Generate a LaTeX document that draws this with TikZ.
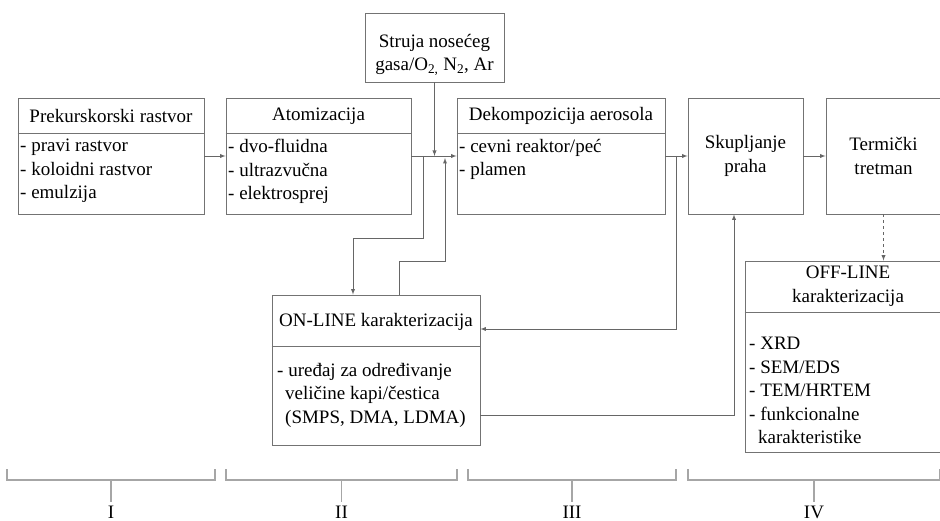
\documentclass[tikz,border=0pt]{standalone}
\usepackage{fontspec}
\setmainfont{LiberationSerif}[Extension=.ttf,UprightFont=*-Regular,BoldFont=*-Bold]
\usetikzlibrary{arrows}

\begin{document}
\begin{tikzpicture}[x=1pt,y=-1pt,>=latex,
    font=\fontsize{19}{23.5}\selectfont,
    box/.style={draw=black!55,line width=0.9pt,inner sep=0pt},
    conn/.style={draw=black!60,line width=0.9pt},
    items/.style={anchor=north west,align=left,inner sep=0pt},
    brace/.style={draw=black!35,line width=1.6pt}]

  \useasboundingbox (0,0) rectangle (940,521);

  % boxes of the process line
  \node[box,minimum width=186pt,minimum height=116pt] (prek) at (111,156) {};
  \node (prekt) at (111,116) {Prekurskorski rastvor};
  \draw[box] (prek.west |- 0,133) -- (prek.east |- 0,133);
  \node[items] (preki) at (20,139) {- pravi rastvor\\- koloidni rastvor\\- emulzija};

  \node[box,minimum width=185pt,minimum height=116pt] (atom) at (318.5,156) {};
  \node (atomt) at (318.5,116) {Atomizacija};
  \draw[box] (atom.west |- 0,133) -- (atom.east |- 0,133);
  \node[items] (atomi) at (228,139) {- dvo-fluidna\\- ultrazvučna\\- elektrosprej};

  \node[box,minimum width=139pt,minimum height=69pt] (struja) at (434.5,47.5) {};
  \node[align=center] (strujat) at (434.5,55) {Struja nosećeg\\gasa/O\textsubscript{2,} N\textsubscript{2}, Ar};

  \node[box,minimum width=208pt,minimum height=116pt] (dek) at (561,156) {};
  \node (dekt) at (561,116) {Dekompozicija aerosola};
  \draw[box] (dek.west |- 0,133) -- (dek.east |- 0,133);
  \node[items] (deki) at (459,139) {- cevni reaktor/peć\\- plamen};

  \node[box,minimum width=115pt,minimum height=116pt,align=center] (skup) at (745.5,156) {Skupljanje\\praha};
  \node[box,minimum width=115pt,minimum height=116pt,align=center] (term) at (883.5,156) {Termički\\tretman};

  % characterisation boxes
  \node[box,minimum width=208pt,minimum height=150pt] (online) at (376,370) {};
  \node (onlinet) at (376,322) {ON-LINE karakterizacija};
  \draw[box] (online.west |- 0,346) -- (online.east |- 0,346);
  \node[items] (onlinei) at (277,363) {- uređaj za određivanje\\\hspace*{8pt}veličine kapi/čestica\\\hspace*{8pt}(SMPS, DMA, LDMA)};

  \node[box,minimum width=206pt,minimum height=191pt] (off) at (848,356.5) {};
  \node[align=center] (offt) at (848,286) {OFF-LINE\\karakterizacija};
  \draw[box] (off.west |- 0,312) -- (off.east |- 0,312);
  \node[items] (offi) at (749,337) {- XRD\\- SEM/EDS\\- TEM/HRTEM\\- funkcionalne\\\hspace*{9pt}karakteristike};

  % connectors
  \coordinate (j1) at (423,156);
  \coordinate (j2) at (676,156);
  \draw[conn,->] (prek.east) -- (atom.west);
  \draw[conn,->] (atom.east) -- (dek.west);
  \draw[conn,->] (struja.south) -- (struja.south |- dek.west);
  \draw[conn,->] (j1) |- (353,238) -- (353,0 |- online.north);
  \draw[conn,->] (399,0 |- online.north) |- (445,261) -- (445,158);
  \draw[conn,->] (dek.east) -- (skup.west);
  \draw[conn,->] (j2) |- (online.east |- 0,329);
  \draw[conn,->] (online.east |- 0,415) -| (734,0 |- skup.south);
  \draw[conn,->] (skup.east) -- (term.west);
  \draw[conn,->,dashed] (term.south) -- (term.south |- off.north);

  % stages
  \foreach \xa/\xb/\lab in {7/215/I,226/457/II,468/676/III,688/940/IV}{
    \draw[brace] (\xa,469) |- (\xb,480) -- (\xb,469);
    \draw[brace] ({(\xa+\xb)/2},480) -- ({(\xa+\xb)/2},502);
    \node[anchor=base,inner sep=0pt] (br\lab) at ({(\xa+\xb)/2},518) {\lab};
  }
\end{tikzpicture}
\end{document}
